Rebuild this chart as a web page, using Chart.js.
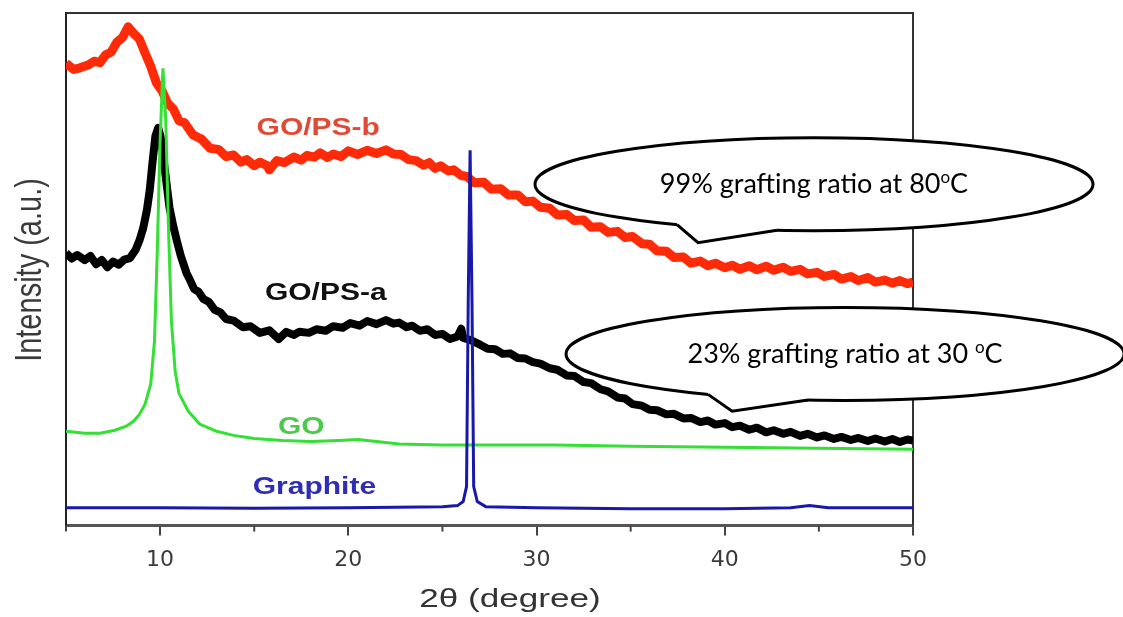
<!DOCTYPE html>
<html>
<head>
<meta charset="utf-8">
<script src="https://cdn.jsdelivr.net/npm/chart.js@4.4.1/dist/chart.umd.min.js"></script>
<style>
  html, body { margin: 0; padding: 0; background: #fff; }
  #wrap { width: 1123px; height: 617px; }
</style>
</head>
<body>
<div id="wrap"><canvas id="xrdChart" width="1123" height="617"></canvas></div>
<script>
// x axis ticks (2 theta, degree)
const xMajorTicks = [10, 20, 30, 40, 50];
const xMinorTicks = [5, 15, 25, 35, 45];

// GO/PS-b (red)
const psbTheta = [5.0, 5.4, 5.75, 6.2, 6.5, 6.8, 7.1, 7.4, 7.7, 8.0, 8.3, 8.6, 8.9, 9.2, 9.5, 9.8, 10.1, 10.4, 10.7, 11.0,
  11.3, 11.75, 12.2, 12.65, 13.1, 13.5, 13.9, 14.3, 14.6, 15.0, 15.3, 15.7, 15.8, 16.2, 16.6, 17.1, 17.5, 17.8, 18.2, 18.5,
  18.9, 19.2, 19.6, 20.0, 20.5, 21.0, 21.5, 22.0, 22.4, 22.8, 23.2, 23.6, 24.0, 24.3, 24.6, 24.9, 25.3, 25.6, 26.0, 26.3,
  26.7, 27.2, 27.6, 28.1, 28.5, 29.0, 29.4, 29.8, 30.2, 30.7, 31.1, 31.6, 32.0, 32.5, 32.9, 33.4, 33.8, 34.3, 34.7, 35.1,
  35.6, 36.0, 36.4, 36.9, 37.3, 37.8, 38.2, 38.7, 39.1, 39.5, 40.0, 40.4, 40.8, 41.3, 41.7, 42.2, 42.6, 43.1, 43.5, 44.0,
  44.4, 44.9, 45.3, 45.8, 46.2, 46.7, 47.1, 47.6, 48.0, 48.5, 48.9, 49.3, 49.7, 50.0];
const psbIntensity = [90.2, 89.0, 89.3, 89.9, 90.6, 90.3, 91.8, 92.4, 94.3, 95.2, 97.3, 96.0, 94.9, 92.2, 89.6, 86.4, 84.8, 82.4, 81.3, 79.0,
  78.6, 76.2, 75.4, 73.6, 73.4, 72.0, 72.3, 70.9, 71.4, 70.2, 70.9, 70.2, 69.4, 71.2, 70.8, 71.9, 71.3, 72.2, 71.9, 72.7,
  71.8, 72.5, 72.0, 73.1, 72.4, 73.2, 72.6, 73.3, 72.5, 72.4, 71.4, 71.2, 70.3, 70.8, 69.7, 70.2, 69.2, 69.4, 68.3, 68.1,
  66.9, 67.0, 65.6, 65.7, 64.5, 64.5, 63.2, 63.3, 62.1, 61.9, 60.6, 60.7, 59.5, 59.6, 58.2, 58.3, 57.2, 57.4, 56.2, 56.4,
  55.0, 54.9, 53.6, 53.5, 52.3, 52.4, 51.2, 51.6, 50.7, 51.2, 50.3, 50.8, 50.0, 50.7, 49.9, 50.6, 49.8, 50.4, 49.6, 50.0,
  49.1, 49.4, 48.6, 49.0, 48.1, 48.6, 47.8, 48.4, 47.5, 47.9, 47.3, 47.8, 47.2, 47.5];

// GO/PS-a (black)
const psaTheta = [5.0, 5.3, 5.6, 6.0, 6.3, 6.6, 6.9, 7.2, 7.5, 7.8, 8.1, 8.4, 8.7, 8.9, 9.1, 9.3, 9.45, 9.6, 9.75, 9.9,
  10.05, 10.2, 10.35, 10.5, 10.7, 10.9, 11.1, 11.4, 11.6, 11.8, 12.05, 12.3, 12.6, 12.9, 13.2, 13.5, 13.9, 14.4, 14.8, 15.3,
  15.8, 16.3, 16.7, 17.1, 17.4, 17.9, 18.3, 18.8, 19.2, 19.7, 20.1, 20.6, 21.0, 21.5, 22.0, 22.4, 22.7, 23.1, 23.4, 23.8,
  24.2, 24.6, 25.0, 25.4, 25.8, 26.0, 26.1, 26.5, 27.0, 27.4, 27.8, 28.2, 28.6, 29.0, 29.4, 29.8, 30.2, 30.7, 31.1, 31.6,
  32.0, 32.5, 32.9, 33.4, 33.8, 34.3, 34.7, 35.1, 35.6, 36.0, 36.4, 36.9, 37.3, 37.8, 38.2, 38.7, 39.1, 39.5, 40.0, 40.4,
  40.8, 41.3, 41.7, 42.2, 42.6, 43.1, 43.5, 44.0, 44.4, 44.9, 45.3, 45.8, 46.2, 46.7, 47.1, 47.6, 48.0, 48.5, 48.9, 49.3,
  49.7, 50.0];
const psaIntensity = [53.2, 52.1, 52.8, 51.8, 52.6, 51.0, 51.8, 50.4, 51.5, 50.9, 51.9, 52.2, 53.8, 55.6, 58.0, 61.6, 65.5, 71.0, 76.0, 77.6,
  75.5, 71.0, 66.5, 62.0, 58.4, 55.4, 52.6, 49.3, 47.8, 46.2, 45.6, 44.2, 43.6, 42.1, 41.6, 40.3, 40.0, 38.7, 38.9, 37.6,
  38.1, 36.4, 37.8, 37.2, 37.8, 37.6, 38.3, 38.0, 38.9, 38.6, 39.5, 39.0, 39.9, 39.3, 40.1, 39.4, 39.6, 38.7, 39.0, 38.0,
  38.3, 37.2, 37.4, 36.4, 36.9, 38.4, 36.6, 36.2, 35.3, 34.5, 34.4, 33.5, 33.6, 32.7, 32.6, 31.9, 31.6, 30.7, 30.4, 29.3,
  29.2, 28.0, 27.8, 26.6, 26.2, 25.0, 24.8, 23.7, 23.4, 22.6, 22.5, 21.7, 21.8, 20.9, 21.0, 20.2, 20.5, 19.7, 20.0, 19.2,
  19.5, 18.7, 19.1, 18.2, 18.6, 17.9, 18.3, 17.5, 17.9, 17.2, 17.6, 16.9, 17.3, 16.7, 17.1, 16.5, 17.0, 16.4, 16.9, 16.3,
  16.8, 16.6];

// GO (green)
const goTheta = [5.0, 6.0, 6.8, 7.6, 8.2, 8.6, 8.9, 9.2, 9.5, 9.7, 9.85, 10.0, 10.15, 10.3, 10.45, 10.6, 10.8, 11.0, 11.5, 12.1,
  13.0, 13.9, 15.0, 16.5, 18.0, 19.5, 20.5, 21.5, 22.7, 25.0, 28.0, 31.0, 35.0, 40.0, 45.0, 50.0];
const goIntensity = [18.4, 18.0, 18.0, 18.6, 19.4, 20.4, 21.7, 23.7, 27.6, 36.0, 53.6, 75.1, 89.2, 79.1, 57.5, 39.9, 30.1, 25.8, 22.3, 19.8,
  18.4, 17.6, 17.0, 16.6, 16.4, 16.6, 16.8, 16.4, 15.9, 15.7, 15.7, 15.7, 15.5, 15.3, 15.1, 14.9];

// Graphite (blue)
const graphiteTheta = [5.0, 10.0, 15.0, 20.0, 25.0, 25.8, 26.1, 26.28, 26.37, 26.47, 26.57, 26.66, 26.85, 27.3, 30.0, 35.0, 40.0, 43.5, 44.5, 45.5, 50.0];
const graphiteIntensity = [3.5, 3.5, 3.4, 3.5, 3.7, 3.9, 4.7, 7.6, 43.8, 73.2, 43.8, 7.6, 4.7, 3.7, 3.5, 3.3, 3.3, 3.5, 3.9, 3.5, 3.5];

// curve labels: name, theta, intensity
const curveLabels = [
  { text: 'GO/PS-b', x: 18.4, y: 77.5, color: '#e04a35' },
  { text: 'GO/PS-a', x: 18.8, y: 45.4, color: '#111111' },
  { text: 'GO', x: 17.5, y: 19.2, color: '#4cc94c' },
  { text: 'Graphite', x: 18.2, y: 7.4, color: '#2d2db8' }
];

// speech bubble callouts
const callouts = [
  { pre: '99% grafting ratio at 80', sup: 'o', post: 'C', cx: 44.74, cy: 66.6, tipX: 38.58, tipY: 55.2 },
  { pre: '23% grafting ratio at 30 ', sup: 'o', post: 'C', cx: 46.39, cy: 33.5, tipX: 40.39, tipY: 22.3 }
];

const toPoints = (xs, ys) => xs.map((x, i) => ({ x, y: ys[i] }));

function stretchedText(ctx, text, x, y, font, color, sx, rotate) {
    ctx.save();
    ctx.translate(x, y);
    if (rotate) ctx.rotate(rotate);
    ctx.scale(rotate ? 1 : sx, rotate ? sx : 1);
    ctx.font = font;
    ctx.fillStyle = color;
    ctx.textAlign = 'center';
    ctx.textBaseline = 'middle';
    ctx.fillText(text, 0, 0);
    ctx.restore();
}

// top/right frame lines
const framePlugin = {
    id: 'frame',
    beforeDatasetsDraw(chart) {
        const { ctx, chartArea: a } = chart;
        ctx.save();
        ctx.strokeStyle = '#333';
        ctx.lineWidth = 2;
        ctx.beginPath();
        ctx.moveTo(a.left, a.top);
        ctx.lineTo(a.right, a.top);
        ctx.lineTo(a.right, a.bottom);
        ctx.stroke();
        ctx.restore();
    }
};

const decorPlugin = {
    id: 'decor',
    afterDraw(chart) {
        const { ctx, chartArea: a } = chart;
        const xs = chart.scales.x, ys = chart.scales.y;

        // minor ticks
        ctx.save();
        ctx.strokeStyle = '#444';
        ctx.lineWidth = 2;
        xMinorTicks.forEach(v => {
            const px = xs.getPixelForValue(v);
            ctx.beginPath();
            ctx.moveTo(px, a.bottom);
            ctx.lineTo(px, a.bottom + 6);
            ctx.stroke();
        });
        ctx.restore();

        // axis titles
        stretchedText(ctx, '2\u03b8 (degree)', 510, 600, '26px "Liberation Sans", Arial, sans-serif', '#333', 1.35);
        stretchedText(ctx, 'Intensity (a.u.)', 31, 270, '29px "Liberation Sans", Arial, sans-serif', '#3a3a3a', 1.3, -Math.PI / 2);

        // curve labels
        curveLabels.forEach(l => {
            stretchedText(ctx, l.text, xs.getPixelForValue(l.x), ys.getPixelForValue(l.y),
                'bold 24px "Liberation Sans", Arial, sans-serif', l.color, 1.25);
        });

        // callouts
        callouts.forEach(c => {
            const cx = xs.getPixelForValue(c.cx), cy = ys.getPixelForValue(c.cy);
            const rx = 279, ry = 46.5;
            const tx = xs.getPixelForValue(c.tipX), ty = ys.getPixelForValue(c.tipY);
            const onEllipse = dx => cy + ry * Math.sqrt(1 - (dx / rx) * (dx / rx));
            const b1 = { x: cx - 137, y: onEllipse(-137) };
            const b2 = { x: cx - 37, y: onEllipse(-37) };

            ctx.save();
            ctx.lineWidth = 3;
            ctx.strokeStyle = '#000';
            ctx.fillStyle = '#fff';
            ctx.beginPath();
            ctx.ellipse(cx, cy, rx, ry, 0, 0, Math.PI * 2);
            ctx.fill();
            ctx.stroke();

            // tail
            ctx.beginPath();
            ctx.moveTo(b1.x, b1.y - 5);
            ctx.lineTo(b1.x, b1.y);
            ctx.lineTo(tx, ty);
            ctx.lineTo(b2.x, b2.y);
            ctx.lineTo(b2.x, b2.y - 5);
            ctx.closePath();
            ctx.fill();
            ctx.beginPath();
            ctx.moveTo(b1.x, b1.y);
            ctx.lineTo(tx, ty);
            ctx.lineTo(b2.x, b2.y);
            ctx.stroke();

            // text with superscript
            const font = '27px Lato, "Open Sans", sans-serif';
            const supFont = '17px Lato, "Open Sans", sans-serif';
            ctx.font = font;
            const w1 = ctx.measureText(c.pre).width;
            const w3 = ctx.measureText(c.post).width;
            ctx.font = supFont;
            const w2 = ctx.measureText(c.sup).width;
            const total = w1 + w2 + w3;
            let x0 = cx - total / 2;
            const base = cy + 9;
            ctx.fillStyle = '#000';
            ctx.textAlign = 'left';
            ctx.textBaseline = 'alphabetic';
            ctx.font = font;
            ctx.fillText(c.pre, x0, base);
            ctx.font = supFont;
            ctx.fillText(c.sup, x0 + w1, base - 10);
            ctx.font = font;
            ctx.fillText(c.post, x0 + w1 + w2, base);
            ctx.restore();
        });
    }
};

const ctx = document.getElementById('xrdChart').getContext('2d');
new Chart(ctx, {
    type: 'line',
    data: {
        datasets: [
            {
                label: 'Graphite',
                data: toPoints(graphiteTheta, graphiteIntensity),
                borderColor: '#1818aa',
                borderWidth: 3,
                order: 1
            },
            {
                label: 'GO',
                data: toPoints(goTheta, goIntensity),
                borderColor: '#33e033',
                borderWidth: 3,
                order: 2
            },
            {
                label: 'GO/PS-a',
                data: toPoints(psaTheta, psaIntensity),
                borderColor: '#000000',
                borderWidth: 8,
                borderJoinStyle: 'round',
                order: 3
            },
            {
                label: 'GO/PS-b',
                data: toPoints(psbTheta, psbIntensity),
                borderColor: '#ff2a08',
                borderWidth: 9,
                borderJoinStyle: 'round',
                order: 4
            }
        ]
    },
    options: {
        responsive: false,
        animation: false,
        devicePixelRatio: 1,
        layout: { padding: { left: 66, right: 210, top: 13, bottom: 33 } },
        elements: {
            point: { radius: 0 },
            line: { tension: 0, fill: false }
        },
        plugins: {
            legend: { display: false },
            tooltip: { enabled: false }
        },
        scales: {
            x: {
                type: 'linear',
                min: 5,
                max: 50,
                afterBuildTicks: scale => { scale.ticks = xMajorTicks.map(v => ({ value: v })); },
                grid: { display: true, drawOnChartArea: false, drawTicks: true, tickLength: 10, color: '#444', lineWidth: 2 },
                border: { display: true, color: '#555', width: 3 },
                ticks: {
                    padding: 11,
                    color: '#3a3a3a',
                    font: { family: '"DejaVu Sans", Arial, sans-serif', size: 22 }
                }
            },
            y: {
                min: 0,
                max: 100,
                grid: { display: false, drawTicks: false },
                border: { display: true, color: '#222', width: 2 },
                ticks: { display: false }
            }
        }
    },
    plugins: [framePlugin, decorPlugin]
});
</script>
</body>
</html>
